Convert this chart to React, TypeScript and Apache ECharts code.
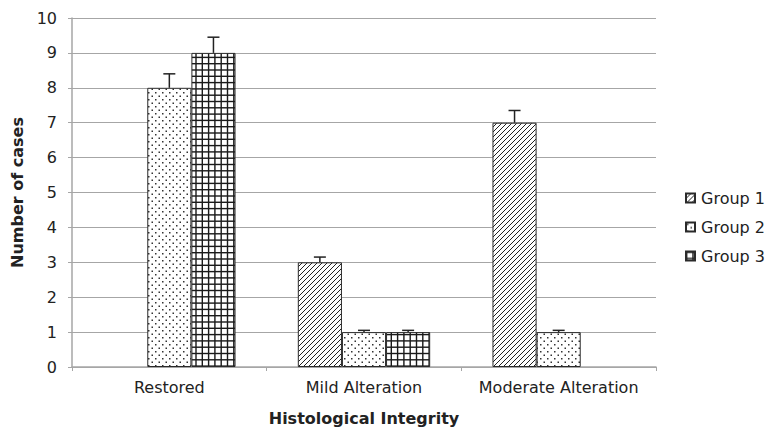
import React, { useEffect, useRef } from "react";
import * as echarts from "echarts";

const categories = ["Restored", "Mild Alteration", "Moderate Alteration"];
const seriesNames = ["Group 1", "Group 2", "Group 3"];
const group1 = [0, 3, 7];
const group2 = [8, 1, 1];
const group3 = [9, 1, 0];
const err1 = [0, 0.15, 0.35];
const err2 = [0.4, 0.05, 0.05];
const err3 = [0.45, 0.05, 0];
const yTicks = [0, 1, 2, 3, 4, 5, 6, 7, 8, 9, 10];

const FONT = "DejaVu Sans";

function makePattern(kind: string): HTMLCanvasElement {
  const c = document.createElement("canvas");
  const ctx = c.getContext("2d")!;
  if (kind === "hatch") {
    const s = 5;
    c.width = s;
    c.height = s;
    ctx.fillStyle = "#fff";
    ctx.fillRect(0, 0, s, s);
    ctx.strokeStyle = "#222";
    ctx.lineWidth = 1;
    ctx.beginPath();
    ctx.moveTo(-1, s + 1);
    ctx.lineTo(s + 1, -1);
    ctx.moveTo(-1, 1);
    ctx.lineTo(1, -1);
    ctx.moveTo(s - 1, s + 1);
    ctx.lineTo(s + 1, s - 1);
    ctx.stroke();
  } else if (kind === "dots") {
    c.width = 7;
    c.height = 7;
    ctx.fillStyle = "#fff";
    ctx.fillRect(0, 0, 7, 7);
    ctx.fillStyle = "#333";
    ctx.fillRect(1, 1, 1.5, 1.5);
    ctx.fillRect(4.5, 4.5, 1.5, 1.5);
  } else {
    const s = 6.3;
    c.width = 63;
    c.height = 63;
    ctx.fillStyle = "#fff";
    ctx.fillRect(0, 0, 63, 63);
    ctx.fillStyle = "#1a1a1a";
    for (let i = 0; i < 10; i++) {
      ctx.fillRect(i * s, 0, 1.4, 63);
      ctx.fillRect(0, i * s, 63, 1.4);
    }
  }
  return c;
}

export default function App() {
  const ref = useRef<HTMLDivElement>(null);
  useEffect(() => {
    if (!ref.current) return;
    const chart = echarts.init(ref.current, undefined, { renderer: "svg" });
    const patterns = [makePattern("hatch"), makePattern("dots"), makePattern("grid")];
    const values = [group1, group2, group3];
    const errs = [err1, err2, err3];
    const gapRatio = 0.32;

    const barSeries = values.map((v, i) => ({
      name: seriesNames[i],
      type: "bar",
      data: v.map((x) => (x === 0 ? "-" : x)),
      barGap: "0%",
      barCategoryGap: "32%",
      itemStyle: {
        color: { image: patterns[i], repeat: "repeat" },
        borderColor: "#2a2a2a",
        borderWidth: 1,
      },
    }));

    const errData: number[][] = [];
    values.forEach((v, i) => {
      v.forEach((val, ci) => {
        if (val > 0 && errs[i][ci] > 0) errData.push([ci, val, errs[i][ci], i]);
      });
    });

    const errSeries = {
      type: "custom",
      name: "err",
      silent: true,
      z: 5,
      data: errData,
      renderItem: (params: any, api: any) => {
        const ci = api.value(0);
        const val = api.value(1);
        const e = api.value(2);
        const si = api.value(3);
        const band = api.size([1, 0])[0];
        const bw = (band * (1 - gapRatio)) / 3;
        const base = api.coord([ci, val]);
        const top = api.coord([ci, val + e]);
        const x = base[0] + (si - 1) * bw;
        const style = { stroke: "#222", lineWidth: 1.5 };
        return {
          type: "group",
          children: [
            { type: "line", shape: { x1: x, y1: base[1], x2: x, y2: top[1] }, style },
            { type: "line", shape: { x1: x - 6, y1: top[1], x2: x + 6, y2: top[1] }, style },
          ],
        };
      },
    };

    chart.setOption({
      animation: false,
      backgroundColor: "#fff",
      textStyle: { fontFamily: FONT },
      grid: { left: 72, right: 113, top: 18, bottom: 62, containLabel: false },
      legend: {
        data: seriesNames,
        orient: "vertical",
        left: 685,
        top: 190,
        padding: 0,
        itemWidth: 9,
        itemHeight: 9,
        itemGap: 13,
        icon: "rect",
        textStyle: { fontSize: 16, fontFamily: FONT, color: "#222", padding: [0, 0, 0, 1] },
      },
      xAxis: {
        type: "category",
        data: categories,
        name: "Histological Integrity",
        nameLocation: "middle",
        nameGap: 43,
        nameTextStyle: { fontSize: 16, fontWeight: "bold", fontFamily: FONT, color: "#222" },
        axisLine: { lineStyle: { color: "#a6a6a6", width: 1.5 } },
        axisTick: { show: true, length: 4, lineStyle: { color: "#a6a6a6" } },
        axisLabel: { fontSize: 16, fontFamily: FONT, color: "#222", margin: 12, interval: 0 },
      },
      yAxis: {
        type: "value",
        min: yTicks[0],
        max: yTicks[yTicks.length - 1],
        interval: 1,
        name: "Number of cases",
        nameLocation: "middle",
        nameGap: 46,
        nameTextStyle: { fontSize: 16, fontWeight: "bold", fontFamily: FONT, color: "#222" },
        axisLine: { show: true, lineStyle: { color: "#a6a6a6", width: 1.5 } },
        axisTick: { show: true, length: 4, lineStyle: { color: "#a6a6a6" } },
        axisLabel: { fontSize: 16, fontFamily: FONT, color: "#222", margin: 15 },
        splitLine: { show: true, lineStyle: { color: "#a6a6a6", width: 1.2 } },
      },
      series: [...barSeries, errSeries],
    } as any);
    return () => chart.dispose();
  }, []);
  return <div ref={ref} style={{ width: 769, height: 431, position: "absolute", left: 0, top: 0 }} />;
}
